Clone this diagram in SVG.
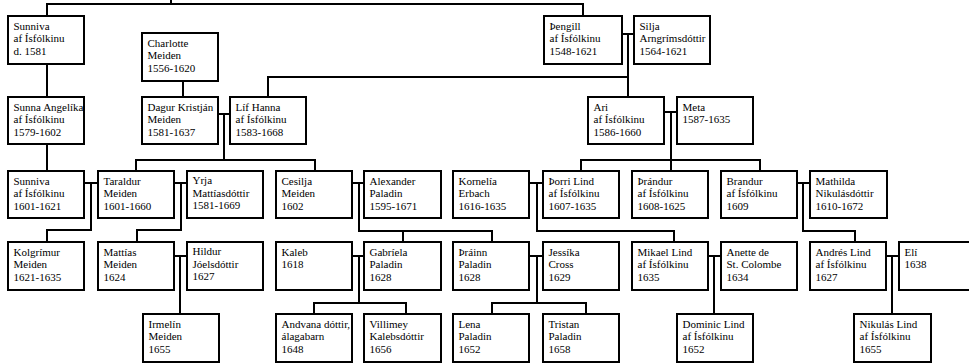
<svg xmlns="http://www.w3.org/2000/svg" width="969" height="364" viewBox="0 0 969 364">
<style>
.b{fill:#fff;stroke:#000;stroke-width:2}
.t{font-family:"Liberation Serif","DejaVu Serif",serif;font-size:11px;fill:#000}
.c{fill:none;stroke:#000;stroke-width:2}
</style>
<rect width="969" height="364" fill="#fff"/>
<g id="connectors" class="c">
<path d="M47,16V4H583V16M171,0V4"/>
<path d="M47,64V97M47,144V171"/>
<path d="M183,81V97"/>
<path d="M218,114H230M224,114V160M136,171V160H315V171"/>
<path d="M622,34H634M628,34V97M268,97V77H628"/>
<path d="M664,112H677M671,112V171M581,171V160H760V171"/>
<path d="M84,183H98M91,183V230H47V242"/>
<path d="M174,183H187M181,183V230H137V242"/>
<path d="M352,183H364M359,183V231H492V242M403,231V242"/>
<path d="M529,183H543M537,183V231H674V242"/>
<path d="M797,183H810M803,183V231H855V242"/>
<path d="M174,256H187M180,256V314"/>
<path d="M352,256H364M359,256V303M314,314V303H406V314"/>
<path d="M529,256H543M537,256V303M492,314V303H586V314"/>
<path d="M708,256H721M714,256V314"/>
<path d="M886,256H899M892,256V314"/>
</g>
<g id="n_sunniva1"><rect class="b" x="8" y="16" width="76" height="48"/><text class="t" x="13.5" y="29.5"><tspan x="13.5">Sunniva</tspan><tspan x="13.5" dy="12.5">af Ísfólkinu</tspan><tspan x="13.5" dy="12.5">d. 1581</tspan></text></g>
<g id="n_thengill"><rect class="b" x="544" y="16" width="78" height="48"/><text class="t" x="549.5" y="29.5"><tspan x="549.5">Þengill</tspan><tspan x="549.5" dy="12.5">af Ísfólkinu</tspan><tspan x="549.5" dy="12.5">1548-1621</tspan></text></g>
<g id="n_silja"><rect class="b" x="634" y="16" width="76" height="48"/><text class="t" x="639.5" y="29.5"><tspan x="639.5">Silja</tspan><tspan x="639.5" dy="12.5">Arngrímsdóttir</tspan><tspan x="639.5" dy="12.5">1564-1621</tspan></text></g>
<g id="n_charlotte"><rect class="b" x="142" y="33" width="76" height="48"/><text class="t" x="147.5" y="46.5"><tspan x="147.5">Charlotte</tspan><tspan x="147.5" dy="12.5">Meiden</tspan><tspan x="147.5" dy="12.5">1556-1620</tspan></text></g>
<g id="n_sunna"><rect class="b" x="8" y="97" width="76" height="47"/><text class="t" x="13.5" y="110.5"><tspan x="13.5">Sunna Angelíka</tspan><tspan x="13.5" dy="12.5">af Ísfólkinu</tspan><tspan x="13.5" dy="12.5">1579-1602</tspan></text></g>
<g id="n_dagur"><rect class="b" x="142" y="97" width="76" height="47"/><text class="t" x="147.5" y="110.5"><tspan x="147.5">Dagur Kristján</tspan><tspan x="147.5" dy="12.5">Meiden</tspan><tspan x="147.5" dy="12.5">1581-1637</tspan></text></g>
<g id="n_lif"><rect class="b" x="230" y="97" width="76" height="47"/><text class="t" x="235.5" y="110.5"><tspan x="235.5">Líf Hanna</tspan><tspan x="235.5" dy="12.5">af Ísfólkinu</tspan><tspan x="235.5" dy="12.5">1583-1668</tspan></text></g>
<g id="n_ari"><rect class="b" x="588" y="97" width="76" height="47"/><text class="t" x="593.5" y="110.5"><tspan x="593.5">Ari</tspan><tspan x="593.5" dy="12.5">af Ísfólkinu</tspan><tspan x="593.5" dy="12.5">1586-1660</tspan></text></g>
<g id="n_meta"><rect class="b" x="677" y="97" width="76" height="47"/><text class="t" x="682.5" y="110.5"><tspan x="682.5">Meta</tspan><tspan x="682.5" dy="12.5">1587-1635</tspan></text></g>
<g id="n_sunniva2"><rect class="b" x="8" y="171" width="76" height="47"/><text class="t" x="13.5" y="184.5"><tspan x="13.5">Sunniva</tspan><tspan x="13.5" dy="12.5">af Ísfólkinu</tspan><tspan x="13.5" dy="12.5">1601-1621</tspan></text></g>
<g id="n_taraldur"><rect class="b" x="98" y="171" width="76" height="47"/><text class="t" x="103.5" y="184.5"><tspan x="103.5">Taraldur</tspan><tspan x="103.5" dy="12.5">Meiden</tspan><tspan x="103.5" dy="12.5">1601-1660</tspan></text></g>
<g id="n_yrja"><rect class="b" x="187" y="171" width="76" height="47"/><text class="t" x="192.5" y="184"><tspan x="192.5">Yrja</tspan><tspan x="192.5" dy="12.5">Mattíasdóttir</tspan><tspan x="192.5" dy="12.5">1581-1669</tspan></text></g>
<g id="n_cesilja"><rect class="b" x="276" y="171" width="76" height="47"/><text class="t" x="281.5" y="184.5"><tspan x="281.5">Cesilja</tspan><tspan x="281.5" dy="12.5">Meiden</tspan><tspan x="281.5" dy="12.5">1602</tspan></text></g>
<g id="n_alexander"><rect class="b" x="364" y="171" width="77" height="47"/><text class="t" x="369.5" y="184.5"><tspan x="369.5">Alexander</tspan><tspan x="369.5" dy="12.5">Paladin</tspan><tspan x="369.5" dy="12.5">1595-1671</tspan></text></g>
<g id="n_kornelia"><rect class="b" x="453" y="171" width="76" height="47"/><text class="t" x="458.5" y="184.5"><tspan x="458.5">Kornelía</tspan><tspan x="458.5" dy="12.5">Erbach</tspan><tspan x="458.5" dy="12.5">1616-1635</tspan></text></g>
<g id="n_thorri"><rect class="b" x="543" y="171" width="76" height="47"/><text class="t" x="548.5" y="184.5"><tspan x="548.5">Þorri Lind</tspan><tspan x="548.5" dy="12.5">af Ísfólkinu</tspan><tspan x="548.5" dy="12.5">1607-1635</tspan></text></g>
<g id="n_thrandur"><rect class="b" x="632" y="171" width="76" height="47"/><text class="t" x="637.5" y="184.5"><tspan x="637.5">Þrándur</tspan><tspan x="637.5" dy="12.5">af Ísfólkinu</tspan><tspan x="637.5" dy="12.5">1608-1625</tspan></text></g>
<g id="n_brandur"><rect class="b" x="721" y="171" width="76" height="47"/><text class="t" x="726.5" y="184.5"><tspan x="726.5">Brandur</tspan><tspan x="726.5" dy="12.5">af Ísfólkinu</tspan><tspan x="726.5" dy="12.5">1609</tspan></text></g>
<g id="n_mathilda"><rect class="b" x="810" y="171" width="77" height="47"/><text class="t" x="815.5" y="184.5"><tspan x="815.5">Mathilda</tspan><tspan x="815.5" dy="12.5">Nikulásdóttir</tspan><tspan x="815.5" dy="12.5">1610-1672</tspan></text></g>
<g id="n_kolgrimur"><rect class="b" x="8" y="242" width="76" height="48"/><text class="t" x="13.5" y="255.5"><tspan x="13.5">Kolgrímur</tspan><tspan x="13.5" dy="12.5">Meiden</tspan><tspan x="13.5" dy="12.5">1621-1635</tspan></text></g>
<g id="n_mattias"><rect class="b" x="98" y="242" width="76" height="48"/><text class="t" x="103.5" y="255.5"><tspan x="103.5">Mattías</tspan><tspan x="103.5" dy="12.5">Meiden</tspan><tspan x="103.5" dy="12.5">1624</tspan></text></g>
<g id="n_hildur"><rect class="b" x="187" y="242" width="76" height="48"/><text class="t" x="192.5" y="255"><tspan x="192.5">Hildur</tspan><tspan x="192.5" dy="12.5">Jóelsdóttir</tspan><tspan x="192.5" dy="12.5">1627</tspan></text></g>
<g id="n_kaleb"><rect class="b" x="276" y="242" width="76" height="48"/><text class="t" x="281.5" y="255.5"><tspan x="281.5">Kaleb</tspan><tspan x="281.5" dy="12.5">1618</tspan></text></g>
<g id="n_gabriela"><rect class="b" x="364" y="242" width="77" height="48"/><text class="t" x="369.5" y="255.5"><tspan x="369.5">Gabríela</tspan><tspan x="369.5" dy="12.5">Paladin</tspan><tspan x="369.5" dy="12.5">1628</tspan></text></g>
<g id="n_thrainn"><rect class="b" x="453" y="242" width="76" height="48"/><text class="t" x="458.5" y="255.5"><tspan x="458.5">Þráinn</tspan><tspan x="458.5" dy="12.5">Paladin</tspan><tspan x="458.5" dy="12.5">1628</tspan></text></g>
<g id="n_jessika"><rect class="b" x="543" y="242" width="76" height="48"/><text class="t" x="548.5" y="255.5"><tspan x="548.5">Jessíka</tspan><tspan x="548.5" dy="12.5">Cross</tspan><tspan x="548.5" dy="12.5">1629</tspan></text></g>
<g id="n_mikael"><rect class="b" x="632" y="242" width="76" height="48"/><text class="t" x="637.5" y="255.5"><tspan x="637.5">Mikael Lind</tspan><tspan x="637.5" dy="12.5">af Ísfólkinu</tspan><tspan x="637.5" dy="12.5">1635</tspan></text></g>
<g id="n_anette"><rect class="b" x="721" y="242" width="76" height="48"/><text class="t" x="726.5" y="255.5"><tspan x="726.5">Anette de</tspan><tspan x="726.5" dy="12.5">St. Colombe</tspan><tspan x="726.5" dy="12.5">1634</tspan></text></g>
<g id="n_andres"><rect class="b" x="810" y="242" width="76" height="48"/><text class="t" x="815.5" y="255.5"><tspan x="815.5">Andrés Lind</tspan><tspan x="815.5" dy="12.5">af Ísfólkinu</tspan><tspan x="815.5" dy="12.5">1627</tspan></text></g>
<g id="n_eli"><rect class="b" x="899" y="242" width="76" height="48"/><text class="t" x="904.5" y="255.5"><tspan x="904.5">Elí</tspan><tspan x="904.5" dy="12.5">1638</tspan></text></g>
<g id="n_irmelin"><rect class="b" x="143" y="314" width="76" height="48"/><text class="t" x="148.5" y="327.5"><tspan x="148.5">Irmelín</tspan><tspan x="148.5" dy="12.5">Meiden</tspan><tspan x="148.5" dy="12.5">1655</tspan></text></g>
<g id="n_andvana"><rect class="b" x="276" y="314" width="76" height="48"/><text class="t" x="281.5" y="327.5"><tspan x="281.5">Andvana dóttir,</tspan><tspan x="281.5" dy="12.5">álagabarn</tspan><tspan x="281.5" dy="12.5">1648</tspan></text></g>
<g id="n_villimey"><rect class="b" x="364" y="314" width="77" height="48"/><text class="t" x="369.5" y="327.5"><tspan x="369.5">Villimey</tspan><tspan x="369.5" dy="12.5">Kalebsdóttir</tspan><tspan x="369.5" dy="12.5">1656</tspan></text></g>
<g id="n_lena"><rect class="b" x="453" y="314" width="76" height="48"/><text class="t" x="458.5" y="327.5"><tspan x="458.5">Lena</tspan><tspan x="458.5" dy="12.5">Paladin</tspan><tspan x="458.5" dy="12.5">1652</tspan></text></g>
<g id="n_tristan"><rect class="b" x="543" y="314" width="76" height="48"/><text class="t" x="548.5" y="327.5"><tspan x="548.5">Tristan</tspan><tspan x="548.5" dy="12.5">Paladin</tspan><tspan x="548.5" dy="12.5">1658</tspan></text></g>
<g id="n_dominic"><rect class="b" x="677" y="314" width="76" height="48"/><text class="t" x="682.5" y="327.5"><tspan x="682.5">Dominic Lind</tspan><tspan x="682.5" dy="12.5">af Ísfólkinu</tspan><tspan x="682.5" dy="12.5">1652</tspan></text></g>
<g id="n_nikulas"><rect class="b" x="854" y="314" width="77" height="48"/><text class="t" x="859.5" y="327.5"><tspan x="859.5">Nikulás Lind</tspan><tspan x="859.5" dy="12.5">af Ísfólkinu</tspan><tspan x="859.5" dy="12.5">1655</tspan></text></g>
</svg>
